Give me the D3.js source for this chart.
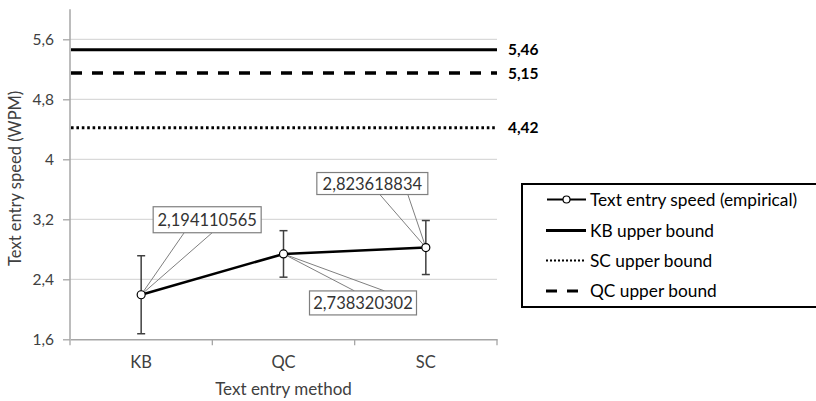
<!DOCTYPE html>
<html>
<head>
<meta charset="utf-8">
<script src="https://cdn.jsdelivr.net/npm/d3@7/dist/d3.min.js"></script>
<style>
  html, body { margin: 0; padding: 0; background: #fff; }
  svg { display: block; font-family: Lato, "Open Sans", sans-serif; }
</style>
</head>
<body>
<svg id="chart" width="816" height="401"></svg>
<script>
// Text entry speed per method, with error bars
const methods = ["KB", "QC", "SC"];
const speeds = [2.194110565, 2.738320302, 2.823618834];
const errors = [0.52, 0.31, 0.36];
const speedLabels = ["2,194110565", "2,738320302", "2,823618834"];

// Theoretical upper bounds
const boundNames = ["KB upper bound", "QC upper bound", "SC upper bound"];
const boundValues = [5.46, 5.15, 4.42];
const boundLabels = ["5,46", "5,15", "4,42"];

const yTicks = [1.6, 2.4, 3.2, 4.0, 4.8, 5.6];
const yTickLabels = ["1,6", "2,4", "3,2", "4", "4,8", "5,6"];

const legendNames = ["Text entry speed (empirical)", "KB upper bound", "SC upper bound", "QC upper bound"];

const svg = d3.select("#chart");
const plotLeft = 70, plotRight = 497, plotTop = 9.3, plotBottom = 339.3;

const x = d3.scaleBand().domain(methods).range([plotLeft, plotRight]);
const y = d3.scaleLinear().domain([1.6, 6.0]).range([plotBottom, plotTop]);

const styles = {
  "KB upper bound": { width: 3, dash: null },
  "QC upper bound": { width: 3.5, dash: "11,10" },
  "SC upper bound": { width: 3, dash: "2.6,2.8" }
};

// Gridlines
svg.append("g")
  .selectAll("line")
  .data(yTicks.slice(1))
  .join("line")
  .attr("x1", plotLeft).attr("x2", plotRight)
  .attr("y1", d => y(d)).attr("y2", d => y(d))
  .attr("stroke", "#d9d9d9").attr("stroke-width", 1.3);

// Y axis
const yAxis = svg.append("g")
  .attr("transform", `translate(${plotLeft},0)`)
  .call(d3.axisLeft(y).tickValues(yTicks).tickSize(7).tickPadding(9)
    .tickFormat((d, i) => yTickLabels[i]));
yAxis.select(".domain").attr("stroke", "#a6a6a6").attr("stroke-width", 1.5)
  .attr("d", `M0,${plotTop}V${plotBottom}`);
yAxis.selectAll(".tick line").attr("stroke", "#a6a6a6").attr("stroke-width", 1.3);
yAxis.selectAll(".tick text").attr("font-size", 15.5).attr("fill", "#404040")
  .attr("font-family", "Lato, 'Open Sans', sans-serif");

// X axis
const xAxis = svg.append("g")
  .attr("transform", `translate(0,${plotBottom})`)
  .call(d3.axisBottom(x).tickSize(0).tickPadding(17));
xAxis.select(".domain").attr("stroke", "#a6a6a6").attr("stroke-width", 1.5);
xAxis.selectAll(".tick text").attr("font-size", 16.5).attr("fill", "#404040")
  .attr("font-family", "Lato, 'Open Sans', sans-serif");
// Tick marks at the category boundaries
const boundaries = [plotLeft].concat(methods.map(m => x(m) + x.bandwidth()));
svg.append("g").selectAll("line").data(boundaries).join("line")
  .attr("x1", d => d).attr("x2", d => d)
  .attr("y1", plotBottom).attr("y2", plotBottom + 6)
  .attr("stroke", "#a6a6a6").attr("stroke-width", 1.3);

// Axis titles
svg.append("text")
  .attr("x", (plotLeft + plotRight) / 2).attr("y", 395)
  .attr("text-anchor", "middle").attr("font-size", 17).attr("fill", "#404040")
  .text("Text entry method");
svg.append("text")
  .attr("transform", `translate(21,${(plotTop + plotBottom) / 2 + 4}) rotate(-90)`)
  .attr("text-anchor", "middle").attr("font-size", 16.5).attr("fill", "#404040")
  .text("Text entry speed (WPM)");

// Upper bound lines
boundNames.forEach((name, i) => {
  const s = styles[name];
  svg.append("line")
    .attr("x1", plotLeft + 1).attr("x2", plotRight)
    .attr("y1", y(boundValues[i])).attr("y2", y(boundValues[i]))
    .attr("stroke", "#000").attr("stroke-width", s.width)
    .attr("stroke-dasharray", s.dash);
  svg.append("text")
    .attr("x", plotRight + 11).attr("y", y(boundValues[i]) + 5.5)
    .attr("font-size", 15.5).attr("font-weight", "bold").attr("fill", "#000")
    .text(boundLabels[i]);
});

const cx = m => x(m) + x.bandwidth() / 2;

// Error bars
const eb = svg.append("g").attr("stroke", "#404040").attr("stroke-width", 1.5);
methods.forEach((m, i) => {
  const hi = y(speeds[i] + errors[i]), lo = y(speeds[i] - errors[i]);
  eb.append("line").attr("x1", cx(m)).attr("x2", cx(m)).attr("y1", hi).attr("y2", lo);
  eb.append("line").attr("x1", cx(m) - 4).attr("x2", cx(m) + 4).attr("y1", hi).attr("y2", hi);
  eb.append("line").attr("x1", cx(m) - 4).attr("x2", cx(m) + 4).attr("y1", lo).attr("y2", lo);
});

// Callout labels: box offset from the point, two leader lines to the box edge
const callouts = [
  { dx: 12, dy: -88, w: 108, h: 26, edge: "bottom", a: 31, b: 59 },
  { dx: 26, dy: 37, w: 107, h: 24, edge: "top", a: 45, b: 75 },
  { dx: -109, dy: -75, w: 111, h: 22, edge: "bottom", a: 63, b: 91 }
];
const cg = svg.append("g");
methods.forEach((m, i) => {
  const px = cx(m), py = y(speeds[i]);
  const c = callouts[i];
  const bx = px + c.dx, by = py + c.dy;
  const ey = c.edge === "bottom" ? by + c.h : by;
  [c.a, c.b].forEach(o => {
    cg.append("line").attr("x1", px).attr("y1", py)
      .attr("x2", bx + o).attr("y2", ey)
      .attr("stroke", "#7f7f7f").attr("stroke-width", 1);
  });
  cg.append("rect").attr("x", bx).attr("y", by).attr("width", c.w).attr("height", c.h)
    .attr("fill", "#fff").attr("stroke", "#7f7f7f").attr("stroke-width", 1.2);
  cg.append("text").attr("x", bx + c.w / 2).attr("y", by + c.h / 2 + 6)
    .attr("text-anchor", "middle").attr("font-size", 16.5).attr("fill", "#333")
    .text(speedLabels[i]);
});

// Empirical speed line and markers
svg.append("path")
  .datum(methods.map((m, i) => [cx(m), y(speeds[i])]))
  .attr("d", d3.line())
  .attr("fill", "none").attr("stroke", "#000").attr("stroke-width", 2.5);
svg.append("g").selectAll("circle")
  .data(methods)
  .join("circle")
  .attr("cx", d => cx(d)).attr("cy", (d, i) => y(speeds[i]))
  .attr("r", 4).attr("fill", "#fff").attr("stroke", "#000").attr("stroke-width", 1.2);

// Legend
const lg = svg.append("g");
lg.append("rect").attr("x", 522).attr("y", 184).attr("width", 300).attr("height", 123)
  .attr("fill", "#fff").attr("stroke", "#000").attr("stroke-width", 2);
const rowY = [199.5, 230.5, 260.5, 291];
legendNames.forEach((name, i) => {
  const yy = rowY[i];
  if (i === 0) {
    lg.append("line").attr("x1", 547).attr("x2", 586).attr("y1", yy).attr("y2", yy)
      .attr("stroke", "#000").attr("stroke-width", 2);
    lg.append("circle").attr("cx", 566.5).attr("cy", yy).attr("r", 3.5)
      .attr("fill", "#fff").attr("stroke", "#000").attr("stroke-width", 1.2);
  } else {
    const s = styles[name];
    lg.append("line").attr("x1", 546).attr("x2", 586).attr("y1", yy).attr("y2", yy)
      .attr("stroke", "#000")
      .attr("stroke-width", name === "SC upper bound" ? 2 : 3)
      .attr("stroke-dasharray", name === "SC upper bound" ? "2,2" : s.dash);
  }
  lg.append("text").attr("x", 590).attr("y", yy + 6)
    .attr("font-size", 17.3).attr("fill", "#000").text(name);
});
</script>
</body>
</html>
